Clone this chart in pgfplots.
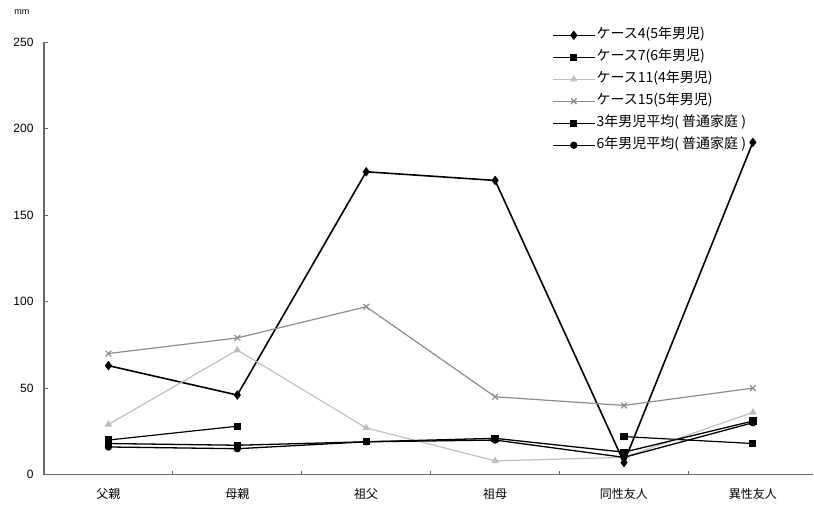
\documentclass[border=0pt]{standalone}
\usepackage{fontspec}
\setmainfont{Liberation Sans}
\newfontfamily\jp{Noto Sans CJK JP}
\usepackage{pgfplots}
\pgfplotsset{compat=1.18}
\begin{document}
\begin{tikzpicture}
\begin{axis}[
  scale only axis, width=770pt, height=433pt,
  xmin=-0.5, xmax=5.47, ymin=0, ymax=250,
  axis x line=bottom, axis y line=left,
  axis line style={-, draw=black!60, line width=1.1pt},
  tick align=inside,
  tick style={draw=black!60, line width=0.8pt},
  major tick length=4pt,
  xtick={0.5,1.5,2.5,3.5,4.5}, xticklabels={},
  extra x ticks={0,1,2,3,4,5},
  extra x tick labels={父親,母親,祖父,祖母,同性友人,異性友人},
  extra x tick style={major tick length=0pt, xticklabel style={font=\jp\fontsize{12}{12}\selectfont, yshift=-10pt}},
  ytick={0,50,100,150,200,250},
  yticklabel style={font=\fontsize{12}{12}\selectfont, xshift=-7pt},
  /pgf/number format/assume math mode=true,
  unbounded coords=jump,
  clip=false,
  legend style={at={(0.66,1.032)}, anchor=north west, draw=none, fill=none,
    row sep=8pt, inner sep=0pt,
    nodes={inner sep=1pt, text height=9pt, text depth=3pt, font=\jp\fontsize{14}{14}\selectfont}},
  legend cell align=left,
  legend image code/.code={\draw[mark repeat=2,mark phase=2] plot coordinates {(0pt,0pt) (21pt,0pt) (42pt,0pt)};},
]
\addplot[black, line width=1.6pt, mark=diamond*, mark size=3.5pt, mark options={solid}] coordinates {
 (0,63) (1,46) (2,175) (3,170) (4,7) (5,192)};
\addlegendentry{ケース4(5年男児)}
\addplot[black, line width=1.2pt, mark=square*, mark size=3pt] coordinates {
 (0,20) (1,28) (2,nan) (3,nan) (4,22) (5,18)};
\addlegendentry{ケース7(6年男児)}
\addplot[black!25, line width=1.2pt, mark=triangle*, mark size=3.2pt] coordinates {
 (0,29) (1,72) (2,27) (3,8) (4,10) (5,36)};
\addlegendentry{ケース11(4年男児)}
\addplot[black!45, line width=1.2pt, mark=x, mark size=4pt] coordinates {
 (0,70) (1,79) (2,97) (3,45) (4,40) (5,50)};
\addlegendentry{ケース15(5年男児)}
\addplot[black, line width=1.3pt, mark=square*, mark size=3pt] coordinates {
 (0,18) (1,17) (2,19) (3,21) (4,13) (5,31)};
\addlegendentry{3年男児平均( 普通家庭 )}
\addplot[black, line width=1.3pt, mark=*, mark size=3pt] coordinates {
 (0,16) (1,15) (2,19) (3,20) (4,10) (5,30)};
\addlegendentry{6年男児平均( 普通家庭 )}
\node[font=\fontsize{9}{9}\selectfont] at (rel axis cs:0,1) [xshift=-22pt, yshift=30pt] {mm};
\path (rel axis cs:0,0) ++(-44pt,-33pt);
\path (rel axis cs:1,1) ++(0pt,42pt);
\end{axis}
\end{tikzpicture}
\end{document}
